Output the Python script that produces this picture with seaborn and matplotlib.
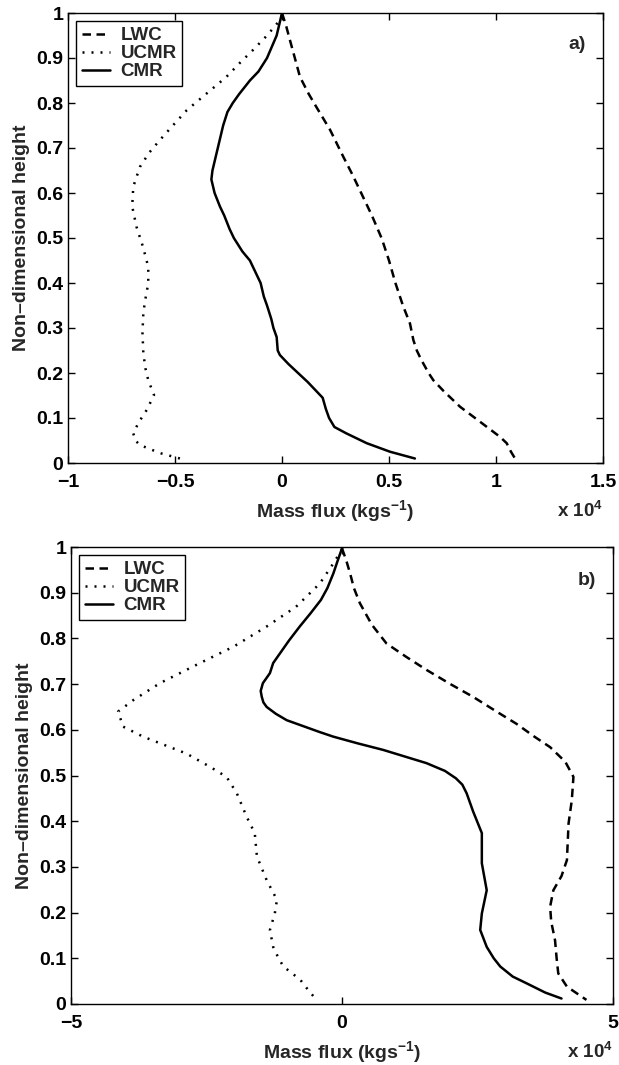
import matplotlib
matplotlib.use("Agg")
import matplotlib.pyplot as plt
import seaborn as sns
import pandas as pd

# ---- panel a) profiles (mass flux in units of 1e4 kg/s) ----
a_lwc_y = [1.0, 0.97, 0.94, 0.9, 0.858, 0.82, 0.79, 0.74, 0.681, 0.64, 0.6, 0.55, 0.499, 0.45, 0.40, 0.35,
           0.31, 0.273, 0.25, 0.23, 0.2, 0.184, 0.16, 0.125, 0.09, 0.058, 0.044, 0.025, 0.01]
a_lwc_x = [0.0, 0.02, 0.037, 0.06, 0.084, 0.125, 0.162, 0.225, 0.286, 0.33, 0.37, 0.42, 0.466, 0.50, 0.53,
           0.565, 0.598, 0.614, 0.63, 0.65, 0.685, 0.707, 0.755, 0.832, 0.93, 1.019, 1.05, 1.07, 1.089]

a_ucmr_y = [0.995, 0.984, 0.95, 0.918, 0.89, 0.858, 0.82, 0.784, 0.75, 0.718, 0.69, 0.658, 0.614, 0.57, 0.525,
            0.481, 0.436, 0.399, 0.36, 0.333, 0.29, 0.244, 0.21, 0.184, 0.151, 0.118, 0.09, 0.066, 0.05, 0.04,
            0.022, 0.01]
a_ucmr_x = [0.0, -0.01, -0.07, -0.135, -0.195, -0.26, -0.355, -0.445, -0.51, -0.57, -0.62, -0.664, -0.695,
            -0.70, -0.68, -0.65, -0.625, -0.625, -0.64, -0.648, -0.652, -0.648, -0.638, -0.625, -0.598, -0.632,
            -0.67, -0.695, -0.685, -0.664, -0.57, -0.477]

a_cmr_y = [1.0, 0.95, 0.9, 0.87, 0.85, 0.82, 0.8, 0.78, 0.75, 0.7, 0.65, 0.63, 0.6, 0.57, 0.55, 0.52, 0.5, 0.47,
           0.45, 0.42, 0.4, 0.37, 0.35, 0.32, 0.3, 0.28, 0.25, 0.24, 0.22, 0.2, 0.18, 0.16, 0.145, 0.12, 0.1, 0.08,
           0.066, 0.044, 0.025, 0.01]
a_cmr_x = [0.0, -0.025, -0.07, -0.11, -0.15, -0.20, -0.23, -0.255, -0.275, -0.30, -0.325, -0.33, -0.315, -0.29,
           -0.27, -0.245, -0.225, -0.185, -0.15, -0.12, -0.10, -0.085, -0.07, -0.05, -0.04, -0.025, -0.02, -0.01,
           0.03, 0.075, 0.12, 0.16, 0.19, 0.205, 0.22, 0.245, 0.30, 0.396, 0.505, 0.621]

# ---- panel b) profiles ----
b_lwc_y = [0.997, 0.97, 0.942, 0.91, 0.877, 0.83, 0.789, 0.76, 0.731, 0.70, 0.672, 0.64, 0.613, 0.585, 0.562,
           0.53, 0.497, 0.446, 0.395, 0.315, 0.28, 0.249, 0.213, 0.18, 0.140, 0.1, 0.067, 0.038, 0.009]
b_lwc_x = [0.0, 0.08, 0.15, 0.22, 0.33, 0.55, 0.82, 1.18, 1.56, 2.0, 2.42, 2.85, 3.22, 3.55, 3.84, 4.12, 4.27,
           4.24, 4.18, 4.15, 4.05, 3.90, 3.84, 3.86, 3.93, 3.96, 3.99, 4.15, 4.51]

b_ucmr_y = [0.995, 0.964, 0.92, 0.869, 0.826, 0.782, 0.746, 0.702, 0.665, 0.640, 0.607, 0.585, 0.548, 0.52,
            0.497, 0.461, 0.41, 0.374, 0.323, 0.271, 0.228, 0.198, 0.162, 0.125, 0.1, 0.082, 0.053, 0.03, 0.009]
b_ucmr_x = [0.0, -0.16, -0.41, -0.85, -1.39, -2.0, -2.62, -3.36, -3.85, -4.13, -4.04, -3.67, -2.87, -2.45,
            -2.13, -1.94, -1.76, -1.61, -1.57, -1.39, -1.20, -1.24, -1.33, -1.27, -1.17, -1.08, -0.77, -0.62,
            -0.47]

b_cmr_y = [0.997, 0.97, 0.942, 0.91, 0.884, 0.855, 0.826, 0.795, 0.768, 0.746, 0.724, 0.702, 0.685, 0.672,
           0.660, 0.650, 0.635, 0.621, 0.595, 0.585, 0.570, 0.556, 0.527, 0.51, 0.494, 0.48, 0.461, 0.421, 0.374,
           0.308, 0.249, 0.198, 0.162, 0.125, 0.1, 0.082, 0.06, 0.045, 0.025, 0.012]
b_cmr_x = [0.0, -0.08, -0.16, -0.27, -0.39, -0.58, -0.78, -0.98, -1.14, -1.27, -1.33, -1.46, -1.50, -1.48,
           -1.45, -1.39, -1.22, -1.02, -0.41, -0.16, 0.30, 0.76, 1.56, 1.90, 2.10, 2.22, 2.30, 2.42, 2.58, 2.58,
           2.67, 2.58, 2.55, 2.67, 2.80, 2.92, 3.15, 3.41, 3.75, 4.05]

series_names = ["LWC", "UCMR", "CMR"]
a_xticks = [-1, -0.5, 0, 0.5, 1, 1.5]
a_xticklabels = ["\u22121", "\u22120.5", "0", "0.5", "1", "1.5"]
b_xticks = [-5, 0, 5]
b_xticklabels = ["\u22125", "0", "5"]
yticks = [0, 0.1, 0.2, 0.3, 0.4, 0.5, 0.6, 0.7, 0.8, 0.9, 1]
yticklabels = ["0", "0.1", "0.2", "0.3", "0.4", "0.5", "0.6", "0.7", "0.8", "0.9", "1"]

sns.set_style("ticks")
plt.rcParams["font.family"] = ["Liberation Sans", "DejaVu Sans"]
plt.rcParams["font.weight"] = "bold"
plt.rcParams["axes.labelweight"] = "bold"
plt.rcParams["mathtext.fontset"] = "custom"
plt.rcParams["mathtext.rm"] = "Liberation Sans:bold"
plt.rcParams["mathtext.default"] = "rm"

styles = {
    "LWC": dict(linestyle=(0, (3.4, 2.2)), lw=1.8),
    "UCMR": dict(linestyle=(0, (0.8, 2.8)), lw=1.8),
    "CMR": dict(linestyle="-", lw=1.8),
}

FS = 14

fig = plt.figure(figsize=(6.19, 10.65), dpi=100)
ax_a = fig.add_axes([68 / 619, 1 - 463 / 1065, 535 / 619, 450 / 1065])
ax_b = fig.add_axes([71 / 619, 1 - 1004 / 1065, 542 / 619, 457 / 1065])


def draw_panel(ax, data, xlim, xticks, xticklabels, tag, tag_xy):
    for name, (xs, ys) in zip(series_names, data):
        df = pd.DataFrame({"flux": xs, "height": ys})
        sns.lineplot(data=df, x="flux", y="height", sort=False, estimator=None,
                     color="black", label=name, ax=ax, **styles[name])
    ax.set_xlim(*xlim)
    ax.set_ylim(0, 1)
    ax.set_xticks(xticks)
    ax.set_xticklabels(xticklabels)
    ax.set_yticks(yticks)
    ax.set_yticklabels(yticklabels)
    ax.tick_params(direction="in", top=True, right=True, length=5, width=1,
                   labelsize=FS, colors="black")
    ax.tick_params(axis="x", pad=8)
    ax.tick_params(axis="y", pad=3.5)
    for s in ax.spines.values():
        s.set_linewidth(1.0)
        s.set_color("black")
    ax.set_xlabel("Mass flux (kgs$^{-1}$)", fontsize=FS, labelpad=5)
    ax.set_ylabel("Non\u2013dimensional height", fontsize=FS, labelpad=4)
    ax.text(tag_xy[0], tag_xy[1], tag, fontsize=FS, ha="center", va="center",
            transform=ax.transData)
    ax.annotate("x 10$^{4}$", xy=(1.0, 0.0), xycoords="axes fraction",
                xytext=(0, -27), textcoords="offset points",
                fontsize=FS - 0.5, ha="right", va="top")
    leg = ax.legend(loc="upper left", fontsize=FS - 0.5, frameon=True, fancybox=False,
                    handlelength=1.5, handletextpad=0.55, borderpad=0.3,
                    labelspacing=0.05, borderaxespad=0.45)
    leg.get_frame().set_edgecolor("black")
    leg.get_frame().set_linewidth(1.0)
    leg.get_frame().set_alpha(1)


draw_panel(ax_a, [(a_lwc_x, a_lwc_y), (a_ucmr_x, a_ucmr_y), (a_cmr_x, a_cmr_y)],
           (-1, 1.5), a_xticks, a_xticklabels, "a)", (1.38, 0.93))
draw_panel(ax_b, [(b_lwc_x, b_lwc_y), (b_ucmr_x, b_ucmr_y), (b_cmr_x, b_cmr_y)],
           (-5, 5), b_xticks, b_xticklabels, "b)", (4.52, 0.926))

fig.savefig("out.png", dpi=100)
